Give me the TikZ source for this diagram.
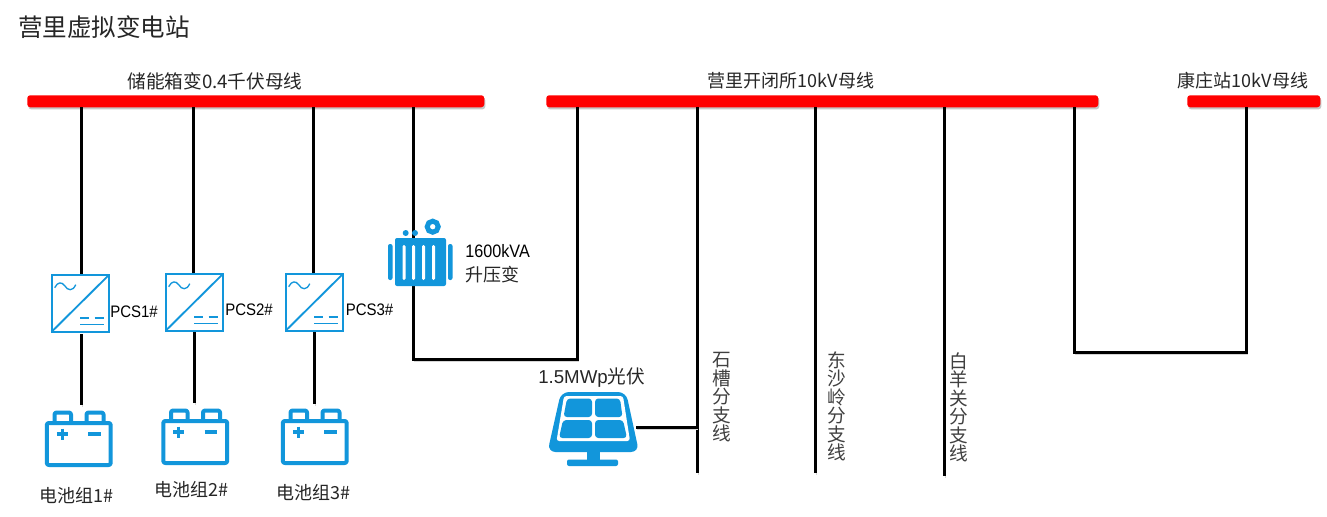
\documentclass[tikz,border=0pt]{standalone}
\usepackage{fontspec}
\setmainfont{Liberation Sans}
\newfontfamily\cjk{Noto Sans CJK SC}
\newfontfamily\narrowlat[FakeStretch=0.9]{Liberation Sans}
\usetikzlibrary{calc}
\definecolor{iconblue}{HTML}{1296DB}
\definecolor{busred}{HTML}{FF0000}
\tikzset{
  bus/.style={fill=busred,rounded corners=2.2pt,inner sep=0,minimum height=12*0.75pt,anchor=north west,
    preaction={fill=black!22,transform canvas={xshift=0.8pt,yshift=-1.6pt}}},
  wire/.style={draw=black,line width=2.25pt,line join=miter,
    preaction={draw=black!16,transform canvas={xshift=0.6pt,yshift=-1.6pt}}},
  txt/.style={inner sep=0,font=\fontsize{13.5pt}{15pt}\selectfont\cjk,text=black!85},
  lat/.style={inner sep=0,font=\fontsize{12.5pt}{14pt}\selectfont\narrowlat,text=black},
  vtxt/.style={txt,align=center,font=\fontsize{14pt}{13.9pt}\selectfont\cjk,text=black!75,anchor=north},
  pcsline/.style={draw=iconblue,line width=1.4pt},
  batline/.style={draw=iconblue,line width=3pt,line join=round,rounded corners=1.5pt},
  pcsicon/.pic={
    \draw[pcsline,fill=white] (0,0) rectangle (57.5,57);
    \draw[pcsline] (0,57) -- (57.5,0);
    \draw[draw=iconblue,line width=1pt] (3,13) .. controls (6,7) and (10,7) .. (13,11) .. controls (16,16) and (21,17) .. (24,10);
    \draw[draw=iconblue,line width=1.1pt] (28.5,43.5) -- (37,43.5) (43,43.5) -- (52,43.5) (28.5,49.7) -- (52,49.7);
  },
  baticon/.pic={
    \draw[batline,fill=white] (1.8,13) rectangle (65.7,55);
    \draw[batline] (9.5,13) -- (9.5,2.5) -- (26,2.5) -- (26,13);
    \draw[batline] (41.5,13) -- (41.5,2.5) -- (58.5,2.5) -- (58.5,13);
    \draw[draw=iconblue,line width=2.4pt] (11.8,24) -- (22.8,24) (17.3,18.5) -- (17.3,29.5);
    \draw[draw=iconblue,line width=2.4pt] (43,24) -- (55.5,24);
  },
}
\begin{document}
\begin{tikzpicture}[x=0.75pt,y=-0.75pt]
\useasboundingbox (0,0) rectangle (1327,517);
\fill[white] (0,0) rectangle (1327,517);
% title
\node[txt,anchor=west,font=\fontsize{18.4pt}{20pt}\selectfont\cjk] (title) at (18,27) {营里虚拟变电站};
% buses
\node[bus,minimum width=457*0.75pt] (busA) at (27,95) {};
\node[bus,minimum width=552*0.75pt] (busB) at (546,95) {};
\node[bus,minimum width=133*0.75pt] (busC) at (1187,95) {};
\node[txt,font=\fontsize{14pt}{15pt}\selectfont\cjk] (busAl) at (215,81) {储能箱变0.4千伏母线};
\node[txt] (busBl) at (791,81) {营里开闭所10kV母线};
\node[txt] (busCl) at (1243,81) {康庄站10kV母线};
% anchor coordinates on buses
\coordinate (a1) at (81,107);
\coordinate (a2) at (193,107);
\coordinate (a3) at (313.5,107);
\coordinate (a4) at (413,107);
\coordinate (b1) at (577.5,107);
\coordinate (b2) at (697,107);
\coordinate (b3) at (815,107);
\coordinate (b4) at (944,107);
\coordinate (b5) at (1074.5,107);
\coordinate (c1) at (1246,107);
% PCS
\coordinate (p1t) at (81,274);
\coordinate (p2t) at (193,273);
\coordinate (p3t) at (313.5,273);
\coordinate (p1b) at (81,334);
\coordinate (p2b) at (194.5,332);
\coordinate (p3b) at (314,332);
\coordinate (g1t) at (81,405);
\coordinate (g2t) at (194.5,403);
\coordinate (g3t) at (314,404);
\draw[wire] (a1) -- (p1t);
\draw[wire] (a2) -- (p2t);
\draw[wire] (a3) -- (p3t);
\draw[wire] (p1b) -- (g1t);
\draw[wire] (p2b) -- (g2t);
\draw[wire] (p3b) -- (g3t);
\pic at (51.7,274.7) {pcsicon};
\pic at (165.7,273.7) {pcsicon};
\pic at (285.7,273.7) {pcsicon};
\pic at (45,410) {baticon};
\pic at (161.5,408) {baticon};
\pic at (281,408) {baticon};
\node[lat,anchor=west] (pl1) at (110,312) {PCS1\#};
\node[lat,anchor=west] (pl2) at (225,310) {PCS2\#};
\node[lat,anchor=west] (pl3) at (345.5,310) {PCS3\#};
\node[txt] (gl1) at (76,496) {电池组1\#};
\node[txt] (gl2) at (191,490) {电池组2\#};
\node[txt] (gl3) at (313,493) {电池组3\#};
% transformer route
\coordinate (t1) at (413,359);
\coordinate (t2) at (577.5,359);
\draw[wire] (a4) -- (t1) -- (t2) -- (b1);
\fill[iconblue,rounded corners=1.5pt] (395,238) rectangle (446,286);
\fill[white,rounded corners=1pt] (402.5,245) rectangle (405.5,280) (412,245) rectangle (415,280) (422,245) rectangle (425,280) (432,245) rectangle (435,280);
\fill[iconblue,rounded corners=1.5pt] (388,244) rectangle (392.5,280) (448,244) rectangle (452.5,280);
\fill[iconblue] (405.7,233) circle (3) (415,233) circle (3);
\draw[draw=iconblue,line width=3.75pt] (432.7,226.7) circle (5.5);
\node[lat,anchor=west,font=\fontsize{13.5pt}{15pt}\selectfont\narrowlat] (tl1) at (465,251) {1600kVA};
\node[txt,anchor=west] (tl2) at (465,275) {升压变};
% branches
\coordinate (b2e) at (697,473);
\coordinate (b3e) at (815,473);
\coordinate (b4e) at (944,476);
\draw[wire] (b2) -- (b2e);
\draw[wire] (b3) -- (b3e);
\draw[wire] (b4) -- (b4e);
\node[vtxt] (v1) at (722,352) {石\\槽\\分\\支\\线};
\node[vtxt] (v2) at (836.5,351) {东\\沙\\岭\\分\\支\\线};
\node[vtxt] (v3) at (958.5,352) {白\\羊\\关\\分\\支\\线};
% tie
\coordinate (d1) at (1074.5,352);
\coordinate (d2) at (1246,352);
\draw[wire] (b5) -- (d1) -- (d2) -- (c1);
% PV
\coordinate (pvr) at (636,427);
\coordinate (pvj) at (697,427);
\draw[wire] (pvr) -- (pvj);
\fill[iconblue,rounded corners=6pt] (561,392) -- (626,392) -- (639,452) -- (547.5,452) -- cycle;
\fill[white,rounded corners=2pt] (564,396) -- (623,396) -- (630,441) -- (556.5,441) -- cycle;
\fill[iconblue,rounded corners=2.5pt] (567,398.5) -- (592,398.5) -- (592,417) -- (563.5,417) -- cycle;
\fill[iconblue,rounded corners=2.5pt] (595,398.5) -- (620,398.5) -- (622.5,417) -- (595,417) -- cycle;
\fill[iconblue,rounded corners=2.5pt] (563,420) -- (592,420) -- (592,438) -- (559,438) -- cycle;
\fill[iconblue,rounded corners=2.5pt] (595,420) -- (623,420) -- (627,438) -- (595,438) -- cycle;
\fill[iconblue] (587,452) rectangle (600,460);
\fill[iconblue,rounded corners=1.5pt] (567,459.5) rectangle (618,466);
\node[inner sep=0,anchor=west,font=\fontsize{14pt}{15pt}\selectfont,text=black!85] (pvl) at (538,378) {1.5MWp{\cjk 光伏}};
\end{tikzpicture}
\end{document}
